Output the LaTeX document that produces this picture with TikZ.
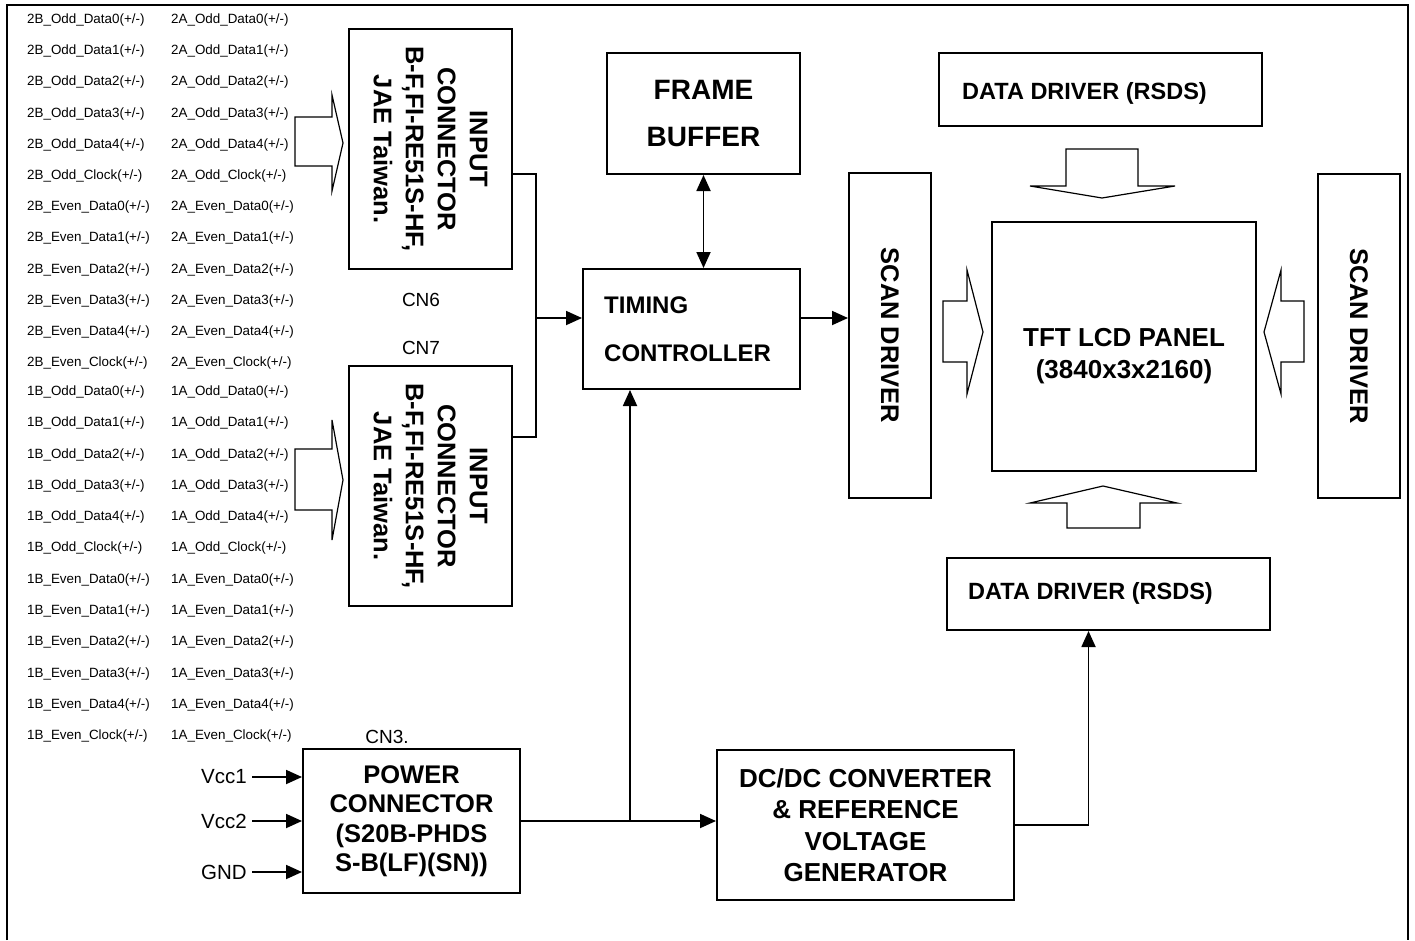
\documentclass[tikz,border=0pt]{standalone}
\usepackage{fontspec}
\setmainfont{Liberation Sans}
\usetikzlibrary{arrows.meta, positioning}

\begin{document}
\begin{tikzpicture}[
    x=1pt, y=-1pt,
    box/.style={draw, line width=2pt, inner sep=0pt},
    title/.style={font=\bfseries\fontsize{25.5}{32}\selectfont, align=center, inner sep=0pt},
    sig/.style={anchor=west, inner sep=0pt, font=\fontsize{13.4}{16}\selectfont},
    tag/.style={inner sep=0pt, font=\fontsize{19}{22}\selectfont},
    supply/.style={inner sep=0pt, anchor=east, font=\fontsize{20.5}{24}\selectfont},
    wire/.style={line width=1.8pt},
    arrow/.style={wire, -{Triangle[length=16pt, width=14pt]}},
    twoway/.style={wire, {Triangle[length=16pt, width=14pt]}-{Triangle[length=16pt, width=14pt]}},
    fat/.style={draw, line width=1.2pt, line join=miter},
]
\useasboundingbox (0,0) rectangle (1415,940);
\draw[line width=2pt] (7,940) -- (7,5) -- (1408,5) -- (1408,940);

% signal names of the two input connectors
\foreach \sg [count=\i from 0] in {Odd\_Data0,Odd\_Data1,Odd\_Data2,Odd\_Data3,Odd\_Data4,Odd\_Clock,Even\_Data0,Even\_Data1,Even\_Data2,Even\_Data3,Even\_Data4,Even\_Clock}{
  \node[sig] (b2-\i) at (27,20+31.2*\i) {2B\_\sg(+/-)};
  \node[sig] (a2-\i) at (171,20+31.2*\i) {2A\_\sg(+/-)};
  \node[sig] (b1-\i) at (27,392+31.3*\i) {1B\_\sg(+/-)};
  \node[sig] (a1-\i) at (171,392+31.3*\i) {1A\_\sg(+/-)};
}

% input connectors
\node[box, minimum width=163, minimum height=240] (cnA) at (430.5,149) {};
\node[title, rotate=-90] (cnAtxt) at (cnA.center) {INPUT\\CONNECTOR\\B-F,FI-RE51S-HF,\\JAE Taiwan.};
\node[box, minimum width=163, minimum height=240] (cnB) at (430.5,486) {};
\node[title, rotate=-90] (cnBtxt) at (cnB.center) {INPUT\\CONNECTOR\\B-F,FI-RE51S-HF,\\JAE Taiwan.};
\node[tag] (cn6) at (421,300) {CN6};
\node[tag] (cn7) at (421,348) {CN7};

\draw[fat] (295,117) -- (332,117) -- (332,95) -- (343,143) -- (332,191) -- (332,166) -- (295,166) -- cycle;
\draw[fat] (295,449) -- (332,449) -- (332,420) -- (343,480) -- (332,540) -- (332,510) -- (295,510) -- cycle;

% timing controller and frame buffer
\node[box, minimum width=193, minimum height=121] (fbuf) at (703.5,113.5) {};
\node[title, font=\bfseries\fontsize{28}{47}\selectfont] (fbuftxt) at (fbuf.center) {FRAME\\BUFFER};
\node[box, minimum width=217, minimum height=120] (tcon) at (691.5,329) {};
\node[title, align=left, anchor=west, font=\bfseries\fontsize{24}{48}\selectfont] (tcontxt) at (604,329) {TIMING\\CONTROLLER};

% panel and drivers
\node[box, minimum width=82, minimum height=325] (scanL) at (890,335.5) {};
\node[title, rotate=-90] (scanLtxt) at (scanL.center) {SCAN DRIVER};
\node[box, minimum width=82, minimum height=324] (scanR) at (1359,336) {};
\node[title, rotate=-90] (scanRtxt) at (scanR.center) {SCAN DRIVER};
\node[box, minimum width=264, minimum height=249] (panel) at (1124,346.5) {};
\node[title, font=\bfseries\fontsize{26}{32}\selectfont] (paneltxt) at (1124,356) {TFT LCD PANEL\\(3840x3x2160)};
\node[box, minimum width=323, minimum height=73] (ddTop) at (1100.5,89.5) {};
\node[title, anchor=west, font=\bfseries\fontsize{23.5}{28}\selectfont] (ddToptxt) at (962,93) {DATA DRIVER (RSDS)};
\node[box, minimum width=323, minimum height=72] (ddBot) at (1108.5,594) {};
\node[title, anchor=west, font=\bfseries\fontsize{23.5}{28}\selectfont] (ddBottxt) at (968,593) {DATA DRIVER (RSDS)};

\draw[fat] (1066,149) -- (1138,149) -- (1138,186) -- (1175,186) -- (1102,198) -- (1030,186) -- (1066,186) -- cycle;
\draw[fat] (1067,528) -- (1140,528) -- (1140,503) -- (1177,503) -- (1103,486) -- (1030,503) -- (1067,503) -- cycle;
\draw[fat] (943,301) -- (967,301) -- (967,270) -- (983,332) -- (967,394) -- (967,362) -- (943,362) -- cycle;
\draw[fat] (1304,301) -- (1281,301) -- (1281,270) -- (1264,332) -- (1281,394) -- (1281,362) -- (1304,362) -- cycle;

% power part
\node[box, minimum width=217, minimum height=144] (pwr) at (411.5,821) {};
\node[title, font=\bfseries\fontsize{25.5}{29.5}\selectfont] (pwrtxt) at (pwr.center) {POWER\\CONNECTOR\\(S20B-PHDS\\S-B(LF)(SN))};
\node[tag] (cn3) at (387,737) {CN3.};
\node[box, minimum width=297, minimum height=150] (dcdc) at (865.5,825) {};
\node[title, font=\bfseries\fontsize{26}{31.5}\selectfont] (dcdctxt) at (dcdc.center) {DC/DC CONVERTER\\\& REFERENCE\\VOLTAGE\\GENERATOR};

\node[supply] (vcc1) at (247,777) {Vcc1};
\node[supply] (vcc2) at (247,821) {Vcc2};
\node[supply] (gnd) at (247,872) {GND};

% connections
\coordinate (jn) at (536,318);
\coordinate (jp) at (630,821);
\draw[wire] ([yshift=-25pt]cnA.east) -| (jn) |- ([yshift=49pt]cnB.east);
\draw[arrow] (jn) -- (tcon.west |- jn);
\draw[arrow] (tcon.east |- jn) -- (scanL.west |- jn);
\draw[twoway] (fbuf.south) -- (fbuf.south |- tcon.north);
\draw[arrow] (pwr.east) -- (pwr.east -| dcdc.west);
\draw[arrow] (jp) -- (jp |- tcon.south);
\draw[arrow] (dcdc.east) -| ([xshift=-20pt]ddBot.south);
\draw[arrow] ([xshift=5pt]vcc1.east) -- (vcc1.east -| pwr.west);
\draw[arrow] ([xshift=5pt]vcc2.east) -- (vcc2.east -| pwr.west);
\draw[arrow] ([xshift=5pt]gnd.east) -- (gnd.east -| pwr.west);

\end{tikzpicture}
\end{document}
